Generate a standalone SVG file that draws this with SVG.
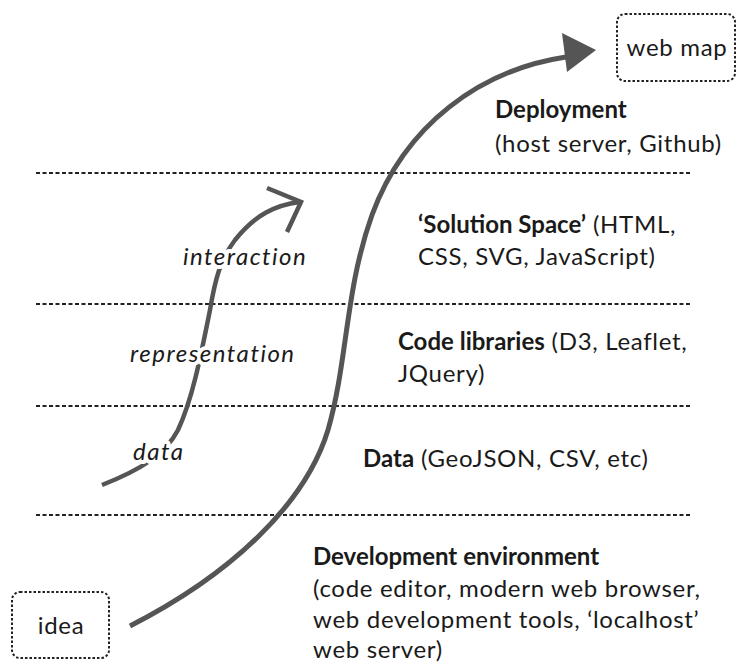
<svg xmlns="http://www.w3.org/2000/svg" width="742" height="662" viewBox="0 0 742 662">
<defs>
<style>
.sep{stroke:#222;stroke-width:2;stroke-dasharray:4 2.5;fill:none}
.box{fill:#fff;stroke:#222;stroke-width:2;stroke-dasharray:2.5 2}
.t{font-family:Lato,"Liberation Sans",sans-serif;font-size:24px;letter-spacing:0.7px;fill:#1a1a1a}
.b{font-weight:bold;letter-spacing:0}
.i{font-style:italic;font-size:24px;letter-spacing:1.5px;stroke:#fff;stroke-width:8;paint-order:stroke;stroke-linejoin:round}
.big{fill:none;stroke:#555;stroke-width:5;stroke-linecap:butt}
.small{fill:none;stroke:#555;stroke-width:4.5}
</style>
</defs>
<rect width="742" height="662" fill="#fff"/>
<g id="separators">
<line class="sep" x1="36" y1="173" x2="690" y2="173"/>
<line class="sep" x1="36" y1="304" x2="690" y2="304"/>
<line class="sep" x1="36" y1="406" x2="690" y2="406"/>
<line class="sep" x1="36" y1="515" x2="690" y2="515"/>
</g>
<g id="connectors">
<path class="big" d="M130,626 C230,575 305,505 328,430 C348,360 345,290 372,215 C405,125 480,70 566,57"/>
<polygon points="596,50 562,33 567,72" fill="#555"/>
<path class="small" d="M102,485 C140,470 165,455 178,430 C192,400 200,360 210,310 C215,280 220,260 235,240 C255,215 275,205 300,202"/>
<polyline class="small" points="267,188 301,202 287,232" stroke-linejoin="miter"/>
</g>
<g id="idea">
<rect class="box" x="12" y="592" width="97" height="66" rx="8"/>
<text class="t" x="61" y="634" text-anchor="middle">idea</text>
</g>
<g id="webmap">
<rect class="box" x="617" y="14" width="118" height="67" rx="8"/>
<text class="t" x="677" y="56" text-anchor="middle">web map</text>
</g>
<g id="labels">
<text class="t i" x="183" y="265">interaction</text>
<text class="t i" x="130" y="362">representation</text>
<text class="t i" x="133" y="460">data</text>
</g>
<g id="layers">
<text class="t" x="495" y="118"><tspan class="b">Deployment</tspan><tspan x="495" y="152">(host server, Github)</tspan></text>
<text class="t" x="418" y="233"><tspan class="b">‘Solution Space’</tspan> (HTML,<tspan x="418" y="265">CSS, SVG, JavaScript)</tspan></text>
<text class="t" x="398" y="350"><tspan class="b">Code libraries</tspan> (D3, Leaflet,<tspan x="398" y="382">JQuery)</tspan></text>
<text class="t" x="363" y="467"><tspan class="b">Data</tspan> (GeoJSON, CSV, etc)</text>
<text class="t" x="313" y="565"><tspan class="b">Development environment</tspan><tspan x="313" y="597">(code editor, modern web browser,</tspan><tspan x="313" y="628">web development tools, ‘localhost’</tspan><tspan x="313" y="658">web server)</tspan></text>
</g>
</svg>
